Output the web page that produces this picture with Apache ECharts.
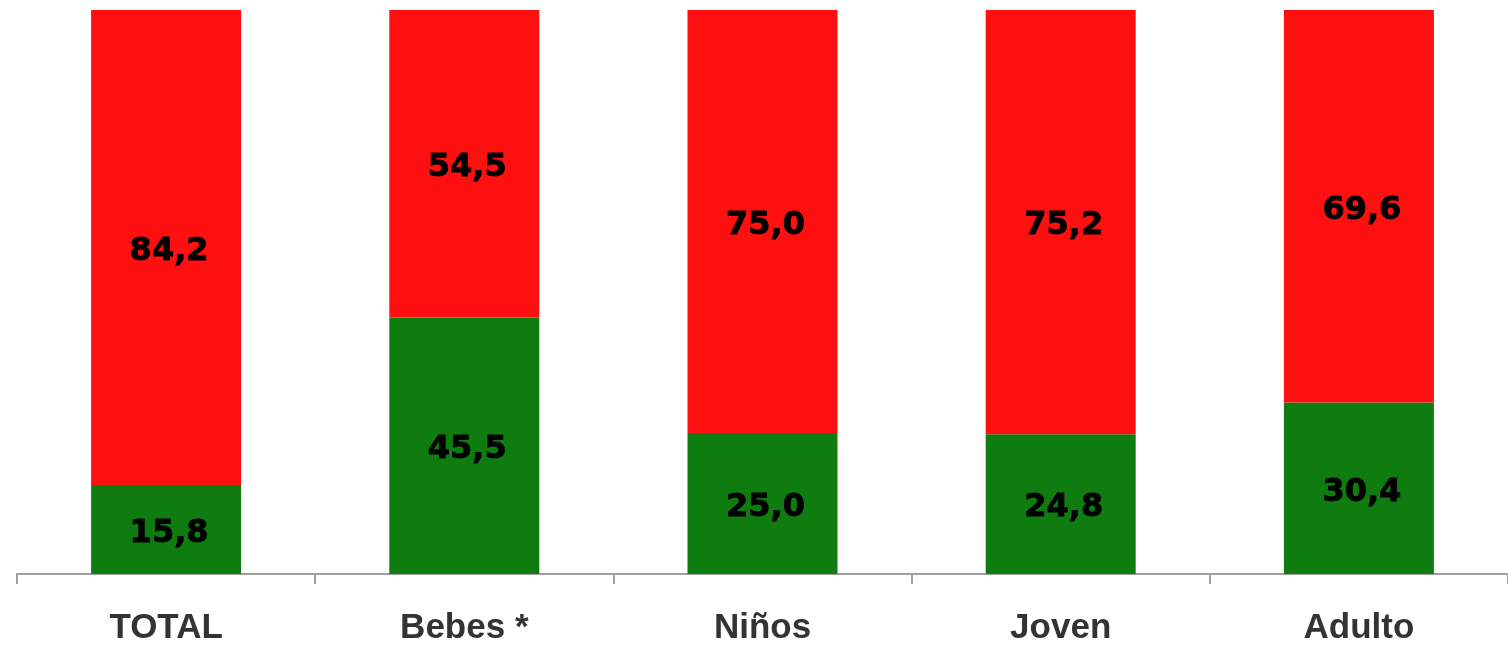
<!DOCTYPE html>
<html><head><meta charset="utf-8">
<script src="https://cdn.jsdelivr.net/npm/echarts@6/dist/echarts.min.js"></script>
<style>html,body{margin:0;padding:0;background:#fff}#c{width:1508px;height:649px}</style>
</head><body><div id="c"></div>
<script>
const categories = ["TOTAL", "Bebes *", "Niños", "Joven", "Adulto"];
const greenValues = [15.8, 45.5, 25.0, 24.8, 30.4];
const redValues = [84.2, 54.5, 75.0, 75.2, 69.6];

const fmt = p => p.value.toFixed(1).replace('.', ',');
const lbl = {
  show: true, position: 'inside', formatter: fmt, offset: [3, 4],
  color: '#000', fontFamily: 'DejaVu Sans', fontWeight: 'bold', fontSize: 32,
  textBorderColor: '#000', textBorderWidth: 0.8
};
const chart = echarts.init(document.getElementById('c'), null, {renderer: 'canvas'});
chart.setOption({
  animation: false,
  grid: {left: 17, right: 0, top: 10, bottom: 75},
  xAxis: {
    type: 'category', data: categories,
    axisLine: {lineStyle: {color: '#a0a0a0', width: 2}},
    axisTick: {show: true, length: 10, lineStyle: {color: '#a0a0a0', width: 2}},
    axisLabel: {margin: 37, color: '#333', fontFamily: 'Liberation Sans', fontWeight: 'bold', fontSize: 35}
  },
  yAxis: {type: 'value', min: 0, max: 100, show: false},
  series: [
    {type: 'bar', stack: 's', data: greenValues, barWidth: 150, itemStyle: {color: '#0F7C10'}, label: lbl},
    {type: 'bar', stack: 's', data: redValues, barWidth: 150, itemStyle: {color: '#FF1010'}, label: lbl}
  ]
});
</script></body></html>
